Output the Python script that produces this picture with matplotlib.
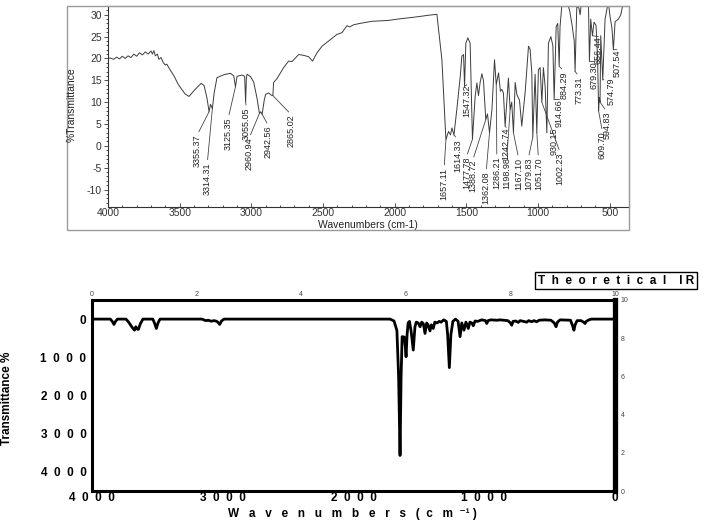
import matplotlib
matplotlib.use('Agg')
import matplotlib.pyplot as plt
from matplotlib.patches import Rectangle

plt.rcParams['font.family'] = ['Liberation Sans', 'DejaVu Sans']
plt.rcParams['axes.unicode_minus'] = False

exp_wn = [4000, 3986, 3960, 3940, 3920, 3900, 3880, 3860, 3840, 3820, 3800, 3780, 3760, 3740,
          3720, 3700, 3690, 3680, 3670, 3655, 3645, 3630, 3614, 3600, 3590, 3567, 3540, 3509,
          3463, 3435, 3393, 3350, 3330, 3310, 3295, 3285, 3272, 3260, 3240, 3190, 3146, 3123,
          3111, 3100, 3065, 3047, 3040, 3035, 3030, 3005, 2984, 2960, 2944, 2935, 2925, 2910,
          2900, 2879, 2862, 2850, 2845, 2821, 2775, 2740, 2716, 2670, 2635, 2601, 2573, 2542,
          2507, 2449, 2403, 2368, 2333, 2315, 2287, 2245, 2159, 2100, 2043, 1980, 1927, 1850,
          1760, 1706, 1671, 1643, 1625, 1611, 1601, 1587, 1567, 1543, 1532, 1520, 1513, 1504,
          1490, 1474, 1458, 1439, 1427, 1416, 1404, 1392, 1381, 1365, 1353, 1339, 1322, 1304,
          1292, 1276, 1263, 1253, 1242, 1230, 1207, 1195, 1184, 1172, 1160, 1148, 1130, 1114,
          1090, 1067, 1056, 1044, 1037, 1021, 1009, 998, 986, 974, 963, 951, 939, 928, 911,
          897, 888, 874, 863, 853, 847, 835, 820, 800, 780, 765, 748, 742, 736, 730, 715, 707,
          697, 660, 649, 642, 633, 621, 610, 596, 585, 578, 573, 568, 563, 549, 533, 510, 498,
          485, 475, 463, 440, 423, 405, 380]
exp_t = [20.0, 20.1, 19.8, 20.3, 19.9, 20.5, 20.0, 20.6, 20.2, 21.0, 20.5, 21.3, 20.8, 21.5,
         21.0, 21.7, 21.0, 21.8, 20.6, 21.0, 19.8, 20.2, 19.0, 18.5, 18.7, 17.4, 16.0, 14.0,
         11.9, 11.3, 12.9, 14.3, 13.8, 11.0, 7.8, 9.5, 8.5, 12.0, 15.6, 16.3, 16.6, 16.0,
         13.5, 15.9, 16.2, 15.9, 10.0, 15.5, 16.4, 15.8, 14.6, 10.8, 7.4, 7.8, 7.2, 10.5,
         11.8, 12.1, 11.6, 11.5, 14.5, 15.4, 17.9, 19.4, 19.3, 20.9, 20.7, 20.4, 19.4, 21.3,
         22.8, 24.3, 25.5, 25.9, 27.5, 27.2, 27.7, 28.0, 28.5, 28.6, 28.7, 29.0, 29.2, 29.5,
         29.9, 30.1, 19.7, 1.4, 3.3, 2.5, 4.1, 2.5, 8.3, 15.9, 20.5, 20.9, 13.6, 23.5,
         24.7, 23.5, 1.5, 11.3, 14.4, 11.5, 14.6, 16.5, 14.9, 6.0, 7.3, 3.0, 8.3, 19.7,
         14.0, 16.7, 12.5, 12.9, 12.1, 4.5, 15.5, 8.3, 10.0, 3.0, 14.5, 11.7, 10.5, 4.5,
         12.4, 22.8, 22.1, 16.8, 2.0, 16.4, 3.0, 17.4, 17.9, 10.0, 17.9, 13.6, 3.0, 23.5, 25.0,
         22.9, 10.6, 27.3, 28.0, 18.2, 27.3, 31.9, 33.0, 33.0, 31.0, 28.0, 24.0, 17.0, 25.0, 31.9, 31.5, 30.0,
         33.0, 33.0, 33.0, 19.3, 29.0, 25.2, 28.3, 27.6, 20.0, 8.0, 11.0, 10.0, 25.2, 15.1, 29.0, 33.0, 29.5,
         27.0, 22.0, 28.4, 29.0, 30.0, 33.0, 33.0]

peak_labels = ['3355.37', '3314.31', '3125.35', '3055.05', '2960.94', '2942.56', '2865.02',
               '1657.11', '1614.33', '1547.32', '1477.78', '1388.72', '1362.08', '1286.21',
               '1242.74', '1198.98', '1167.10', '1079.83', '1051.70', '1002.23', '930.15',
               '914.66', '884.29', '773.31', '679.30', '656.44', '609.70', '594.83', '574.79',
               '507.54']
# point on the trace each label points at
peak_wn = [3295, 3272, 3111, 3040, 2944, 2925, 2850, 1643, 1587, 1513, 1458, 1365, 1339, 1292,
           1230, 1195, 1172, 1037, 1009, 974, 939, 888, 853, 742, 642, 621, 578, 568, 549, 475]
peak_t = [7.8, 8.5, 13.5, 10.0, 7.4, 7.2, 11.5, 1.4, 2.5, 13.6, 1.5, 6.0, 3.0, 14.0,
          4.5, 8.3, 3.0, 2.0, 3.0, 10.0, 3.0, 10.6, 18.2, 17.0, 19.3, 25.2, 8.0, 10.0, 15.1, 22.0]
# where the label text ends (top of rotated text)
lab_x = [3376, 3307, 3160, 3035, 3014, 2881, 2721, 1655, 1560, 1497, 1500, 1455, 1362, 1288,
         1223, 1218, 1137, 1067, 998, 847, 888, 851, 817, 712, 608, 580, 552, 521, 491, 451]
lab_y = [2.6, -3.8, 6.5, 8.7, 1.9, 4.6, 7.1, -5.0, 1.4, 14.0, -2.5, -3.2, -5.9, -2.5,
         4.2, -2.7, -2.7, -2.7, -2.7, -1.5, 4.2, 10.6, 17.0, 15.8, 19.3, 25.0, 3.3, 7.8, 15.6, 22.0]

# theoretical spectrum (bottom)
theo_wn = [4000, 3860, 3845, 3832, 3820, 3805, 3740, 3720, 3690, 3675, 3665, 3655, 3645, 3630,
           3610, 3535, 3520, 3508, 3495, 3480, 3160, 3130, 3110, 3090, 3065, 3045, 3035, 3023,
           3010, 2990, 1720, 1690, 1668, 1655, 1644, 1636, 1628, 1612, 1604, 1598, 1590, 1582,
           1572, 1560, 1543, 1530, 1520, 1505, 1491, 1478, 1466, 1453, 1440, 1430, 1415, 1405,
           1390, 1378, 1360, 1345, 1330, 1310, 1290, 1280, 1267, 1255, 1240, 1220, 1200, 1185,
           1172, 1155, 1140, 1122, 1110, 1095, 1084, 1070, 1050, 1020, 990, 981, 970, 950, 900,
           880, 820, 800, 790, 780, 760, 740, 725, 700, 675, 660, 637, 620, 599, 580, 540, 490,
           465, 451, 440, 420, 340, 322, 314, 305, 290, 260, 240, 229, 220, 200, 180, 10]
theo_int = [0, 0, 60, 140, 60, 0, 0, 80, 230, 290, 200, 260, 270, 120,
            0, 0, 120, 245, 100, 0, 0, 40, 30, 55, 40, 60, 90, 140,
            50, 0, 0, 50, 300, 1500, 3570, 1500, 460, 470, 700, 985, 400, 100,
            60, 300, 810, 200, 80, 100, 200, 80, 120, 375, 100, 150, 310, 150,
            245, 80, 100, 60, 80, 20, 60, 400, 1270, 400, 60, 0, 60, 460,
            100, 290, 80, 245, 80, 100, 175, 50, 60, 20, 40, 115, 40, 20, 30,
            20, 40, 100, 160, 60, 50, 85, 40, 60, 80, 40, 70, 40, 70, 30, 20, 30,
            100, 200, 80, 20, 30, 200, 290, 150, 40, 40, 80, 115, 60, 20, 0, 0]

W, H = 709, 524
fig = plt.figure(figsize=(W / 100, H / 100), dpi=100)

# ---- top panel: scanned experimental spectrum ----
fig.patches.append(Rectangle((67 / W, 1 - 230 / H), (629 - 67) / W, (230 - 6) / H,
                             transform=fig.transFigure, fill=False, ec='#9a9a9a', lw=1.0))
ax1 = fig.add_axes([108 / W, 1 - 207 / H, (629 - 108) / W, (207 - 6) / H])
ax1.plot(exp_wn, exp_t, color='#3c3c3c', lw=0.7)
ax1.set_xlim(4000, 366)
ax1.set_ylim(-14, 32)
ax1.set_xticks([4000, 3500, 3000, 2500, 2000, 1500, 1000, 500])
ax1.set_xticks(range(500, 4001, 100), minor=True)
ax1.set_yticks([30, 25, 20, 15, 10, 5, 0, -5, -10])
ax1.set_yticks(range(-13, 32), minor=True)
ax1.tick_params(labelsize=7.5, colors='#333333', length=3, width=0.6, pad=1.5)
ax1.tick_params(which='minor', length=1.5, width=0.5)
ax1.tick_params(axis='x', which='both', direction='in', pad=1)
for s in ax1.spines.values():
    s.set_color('#777777')
    s.set_linewidth(0.8)
ax1.spines['left'].set_color('#333333')
ax1.spines['bottom'].set_color('#333333')
fig.text(368 / W, 1 - 225 / H, 'Wavenumbers (cm-1)', fontsize=7.5, color='#222222',
         ha='center', va='center')
fig.text(72 / W, 1 - 105 / H, '%Transmittance', rotation=90, fontsize=7.5,
         color='#222222', ha='center', va='center')

for txt, pw, pt, lx, ly in zip(peak_labels, peak_wn, peak_t, lab_x, lab_y):
    ax1.annotate(txt, xy=(pw, pt), xytext=(lx, ly), rotation=90, ha='center', va='top',
                 fontsize=6.5, color='#222222',
                 arrowprops=dict(arrowstyle='-', lw=0.6, color='#444444',
                                 shrinkA=0, shrinkB=0, relpos=(0.5, 1.0)))

# ---- bottom panel: theoretical spectrum ----
ax2 = fig.add_axes([92 / W, 1 - 491 / H, (615 - 92) / W, (491 - 300) / H])
ax2.plot(theo_wn, theo_int, color='black', lw=2.0, solid_joinstyle='round')
ax2.set_xlim(4000, 0)
ax2.set_ylim(4500, -500)
ax2.set_xticks([4000, 3000, 2000, 1000, 0])
ax2.set_xticklabels(['4  0  0  0', '3  0  0  0', '2  0  0  0', '1  0  0  0', '0'])
ax2.set_yticks([0, 1000, 2000, 3000, 4000])
ax2.set_yticklabels(['0', '1  0  0  0', '2  0  0  0', '3  0  0  0', '4  0  0  0'])
ax2.tick_params(length=0, labelsize=8.5, pad=4)
ax2.tick_params(axis='x', pad=1)
for lab in ax2.get_xticklabels() + ax2.get_yticklabels():
    lab.set_fontweight('bold')
for s in ax2.spines.values():
    s.set_linewidth(2.2)
ax2.spines['right'].set_linewidth(3.8)

top = ax2.twiny()
top.set_xlim(0, 10)
top.set_xticks([0, 2, 4, 6, 8, 10])
top.tick_params(labelsize=5, length=0, pad=1.5, colors='#444444')
right = ax2.twinx()
right.set_ylim(0, 10)
right.set_yticks([0, 2, 4, 6, 8, 10])
right.tick_params(labelsize=5, length=0, pad=4, colors='#444444')
for a in (top, right):
    for s in a.spines.values():
        s.set_visible(False)

fig.text(7 / W, 1 - 398 / H, 'Transmittance %', rotation=90, fontsize=8.5,
         fontweight='bold', ha='center', va='center')
fig.text(352 / W, 1 - 514 / H, 'W   a   v   e   n   u   m   b   e   r   s   (  c   m  \u207b\u00b9 )',
         fontsize=8.5, fontweight='bold', ha='center', va='center')
fig.text(616 / W, 1 - 280.5 / H, 'T  h  e  o  r  e  t  i  c  a  l    I R', fontsize=8.5,
         fontweight='bold', ha='center', va='center',
         bbox=dict(boxstyle='square,pad=0.25', fc='white', ec='black', lw=1.0))

fig.savefig('out.png', dpi=100)
